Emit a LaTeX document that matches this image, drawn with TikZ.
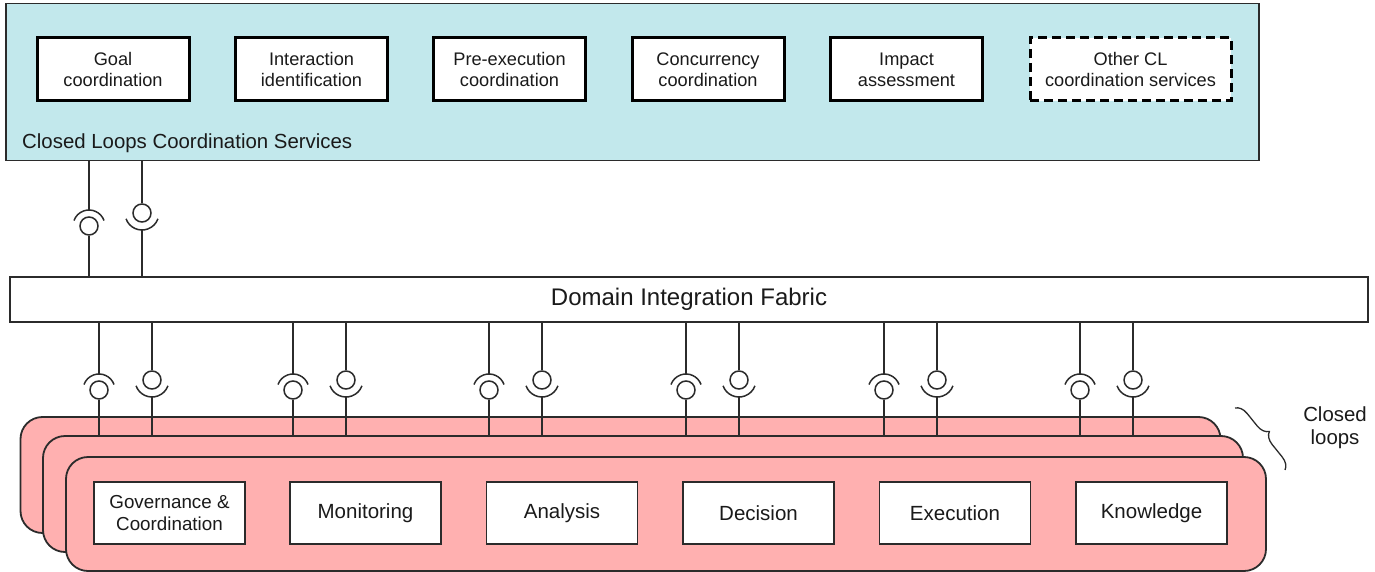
\documentclass[tikz,border=0pt]{standalone}
\usepackage{fontspec}
\setmainfont{Liberation Sans}
\usetikzlibrary{decorations.pathreplacing,calc}
\definecolor{cyanfill}{HTML}{C2E8EC}
\definecolor{pinkfill}{HTML}{FFB0B0}
\definecolor{txt}{HTML}{1A1A1A}
\definecolor{edge}{HTML}{2B2B2B}
\tikzset{
  cont/.style={draw=edge, line width=1.5pt, fill=cyanfill, inner sep=0pt, anchor=north west},
  svc/.style={draw=black, line width=3pt, fill=white, minimum width=152pt, minimum height=63pt, inner sep=0pt, align=center, font=\fontsize{18.2}{21}\selectfont, text=txt},
  fabric/.style={draw=edge, line width=1.3pt, fill=white, minimum width=1358pt, minimum height=45pt, inner sep=0pt, font=\fontsize{24}{27}\selectfont, text=txt},
  loopbox/.style={draw=edge, line width=1.8pt, fill=pinkfill, rounded corners=22pt, minimum width=1200pt, minimum height=116pt, inner sep=0pt},
  fn/.style={draw=edge, line width=1.5pt, fill=white, minimum width=151pt, minimum height=62pt, inner sep=0pt, align=center, font=\fontsize{20.5}{22}\selectfont, text=txt},
  ball/.style={circle, draw=edge, line width=1.5pt, minimum size=18pt, inner sep=0pt, fill=white},
  conn/.style={draw=edge, line width=1.5pt},
  lbl/.style={font=\fontsize{20.4}{23}\selectfont, text=txt, inner sep=0pt, align=center}
}
\begin{document}
\begin{tikzpicture}[x=1pt,y=-1pt]
\useasboundingbox (0,0) rectangle (1375,572);
% top container
\node[cont, minimum width=1253pt, minimum height=157pt] (cls) at (5,3) {};
\node[lbl, anchor=base west] (clslbl) at (22,149) {Closed Loops Coordination Services};
\node[svc] (goal) at (113,69.5) {Goal\\coordination};
\node[svc] (inter) at (311.5,69.5) {Interaction\\identification};
\node[svc] (pre) at (509.5,69.5) {Pre-execution\\coordination};
\node[svc] (conc) at (708,69.5) {Concurrency\\coordination};
\node[svc] (imp) at (906.5,69.5) {Impact\\assessment};
\node[svc, dash pattern=on 9pt off 5pt, minimum width=201pt] (other) at (1130.5,69.5) {Other CL\\coordination services};
% fabric
\node[fabric] (fab) at (689,299.5) {Domain Integration Fabric};
% loop stack
\node[loopbox] (lp1) at (620.5,475) {};
\node[loopbox] (lp2) at (643,494) {};
\node[loopbox, minimum height=114pt] (lp3) at (666,514) {};
\node[fn, font=\fontsize{18.8}{22}\selectfont] (gov) at (169.5,513) {Governance \&\\Coordination};
\node[fn] (mon) at (365.5,513) {Monitoring};
\node[fn] (ana) at (562,513) {Analysis};
\node[fn] (dec) at (758.5,513) {Decision};
\node[fn] (exe) at (955,513) {Execution};
\node[fn] (kno) at (1151.5,513) {Knowledge};
% top interfaces
\node[ball] (ta) at (89,226) {};
\draw[conn] (cls.south -| ta) -- ([yshift=16pt]ta.center);
\draw[conn] ([shift={(20:16pt)}]ta.center) arc[start angle=20,end angle=160,radius=16pt];
\draw[conn] (ta.south) -- (ta.south |- fab.north);
\node[ball] (tb) at (142,213) {};
\draw[conn] (cls.south -| tb) -- (tb.north);
\draw[conn] ([shift={(200:17pt)}]tb.center) arc[start angle=200,end angle=340,radius=17pt];
\draw[conn] ([yshift=-17pt]tb.center) -- (tb.center |- fab.north);
% bottom interfaces
\foreach \x [count=\i] in {99,293,489,686,884,1080} {
  \node[ball] (bl\i) at (\x,390) {};
  \draw[conn] (fab.south -| bl\i) -- ([yshift=16pt]bl\i.center);
  \draw[conn] ([shift={(20:16pt)}]bl\i.center) arc[start angle=20,end angle=160,radius=16pt];
  \draw[conn] (bl\i.south) -- (bl\i.south |- lp2.north);
  \node[ball] (br\i) at (\x+53,380) {};
  \draw[conn] (fab.south -| br\i) -- (br\i.north);
  \draw[conn] ([shift={(200:17pt)}]br\i.center) arc[start angle=200,end angle=340,radius=17pt];
  \draw[conn] ([yshift=-17pt]br\i.center) -- (br\i.center |- lp2.north);
}
% brace
\coordinate (bra) at (1235,408);
\coordinate (brb) at (1285,470);
\draw[edge, line width=1.3pt, decorate, decoration={brace, amplitude=12pt}] (bra) -- (brb);
\node[lbl] (cl) at (1335,428) {Closed\\loops};
\end{tikzpicture}
\end{document}
